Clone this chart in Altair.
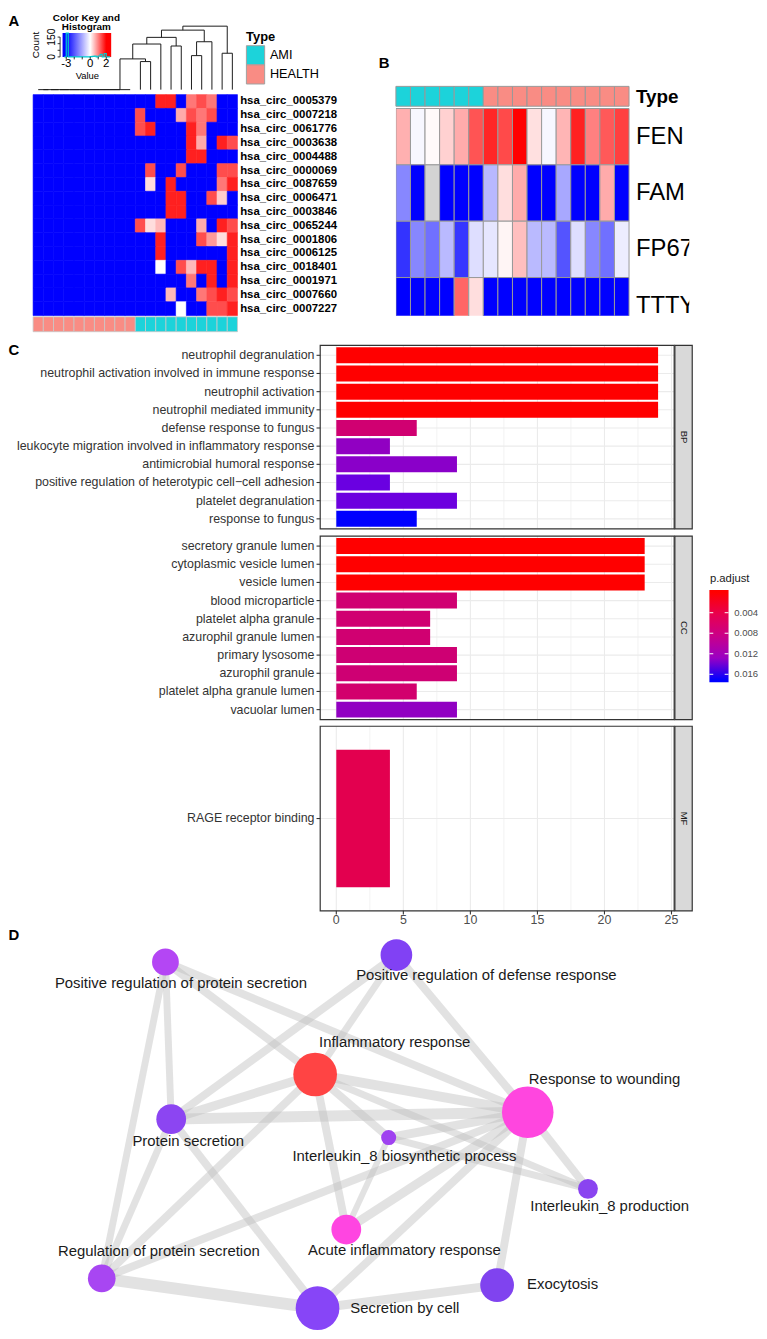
import altair as alt
import numpy as np
import pandas as pd

FONT = "Liberation Sans"
CYAN = "#1CD3DA"
PINK = "#F98C84"
BLUE, WHITE, RED = "#0000FF", "#FFFFFF", "#FF0000"

# ======================= Panel A data =======================
A_genes = ["hsa_circ_0005379", "hsa_circ_0007218", "hsa_circ_0061776", "hsa_circ_0003638",
           "hsa_circ_0004488", "hsa_circ_0000069", "hsa_circ_0087659", "hsa_circ_0006471",
           "hsa_circ_0003846", "hsa_circ_0065244", "hsa_circ_0001806", "hsa_circ_0006125",
           "hsa_circ_0018401", "hsa_circ_0001971", "hsa_circ_0007660", "hsa_circ_0007227"]
A_types = ["HEALTH", "HEALTH", "HEALTH", "HEALTH", "HEALTH", "HEALTH", "HEALTH", "HEALTH", "HEALTH", "HEALTH",
           "AMI", "AMI", "AMI", "AMI", "AMI", "AMI", "AMI", "AMI", "AMI", "AMI"]
BL, R2, R1, S1, P1, L1, W0 = -3.0, 1.75, 1.4, 1.07, 0.67, 0.27, 0.0
A_values = [
    [BL, BL, BL, BL, BL, BL, BL, BL, BL, BL, BL, BL, R2, R2, BL, S1, R1, S1, BL, BL],
    [BL, BL, BL, BL, BL, BL, BL, BL, BL, BL, R1, BL, BL, BL, P1, R1, S1, R1, BL, BL],
    [BL, BL, BL, BL, BL, BL, BL, BL, BL, BL, R1, R2, BL, BL, BL, R2, S1, BL, BL, BL],
    [BL, BL, BL, BL, BL, BL, BL, BL, BL, BL, BL, BL, BL, BL, BL, R2, P1, BL, R2, R1],
    [BL, BL, BL, BL, BL, BL, BL, BL, BL, BL, BL, BL, BL, BL, BL, R2, R2, BL, BL, BL],
    [BL, BL, BL, BL, BL, BL, BL, BL, BL, BL, BL, R1, BL, BL, R1, BL, BL, BL, R1, R1],
    [BL, BL, BL, BL, BL, BL, BL, BL, BL, BL, BL, L1, BL, R2, BL, BL, BL, BL, S1, R2],
    [BL, BL, BL, BL, BL, BL, BL, BL, BL, BL, BL, BL, BL, R2, R2, BL, BL, R1, 0.4, BL],
    [BL, BL, BL, BL, BL, BL, BL, BL, BL, BL, BL, BL, BL, R2, R2, BL, BL, BL, BL, BL],
    [BL, BL, BL, BL, BL, BL, BL, BL, BL, BL, R1, L1, 0.55, BL, BL, BL, 0.65, BL, R2, R1],
    [BL, BL, BL, BL, BL, BL, BL, BL, BL, BL, BL, BL, R2, BL, BL, BL, R1, 0.8, L1, R2],
    [BL, BL, BL, BL, BL, BL, BL, BL, BL, BL, BL, BL, R2, BL, BL, BL, BL, BL, BL, R2],
    [BL, BL, BL, BL, BL, BL, BL, BL, BL, BL, BL, BL, W0, BL, R1, 0.55, R2, R2, BL, R2],
    [BL, BL, BL, BL, BL, BL, BL, BL, BL, BL, BL, BL, BL, BL, BL, S1, BL, R2, BL, R2],
    [BL, BL, BL, BL, BL, BL, BL, BL, BL, BL, BL, BL, BL, 0.55, BL, BL, S1, R1, R2, R1],
    [BL, BL, BL, BL, BL, BL, BL, BL, BL, BL, BL, BL, BL, BL, W0, BL, BL, R1, R1, R2],
]
# column dendrogram (scipy-like linkage: child a, child b, merge height)
A_merges = [(0, 1, 0), (20, 2, 0), (21, 3, 0), (22, 4, 0), (23, 5, 0), (24, 6, 0), (25, 7, 0),
            (26, 8, 0), (27, 9, 0), (10, 11, 28.3), (28, 29, 31.0), (30, 12, 46.0), (13, 14, 44.0),
            (31, 32, 52.7), (15, 16, 34.3), (34, 17, 48.3), (33, 35, 60.0), (18, 19, 36.7), (36, 37, 64.0)]
A_key_ticks = [-3, -2, -1, 0, 1, 2]
A_key_labels = ["-3", "0", "2"]
A_key_label_vals = [-3, 0, 2]
A_count_ticks = [0, 50, 100, 150]
A_count_label_vals = [0, 150]
A_count_labels = ["0", "150"]
A_legend_types = ["AMI", "HEALTH"]

# ======================= Panel B data =======================
B_genes = ["FEN", "FAM", "FP67", "TTTY"]
B_types = ["AMI", "AMI", "AMI", "AMI", "AMI", "AMI", "HEALTH", "HEALTH", "HEALTH", "HEALTH",
           "HEALTH", "HEALTH", "HEALTH", "HEALTH", "HEALTH", "HEALTH"]
B_values = [
    [0.31, -0.03, 0.02, 0.18, 0.33, 0.67, 0.85, 0.71, 1.0, 0.12, -0.03, 0.29, 0.87, 0.5, 0.65, 0.75],
    [-0.47, -1.0, None, -1.0, -1.0, -1.0, -0.28, 0.13, 0.33, -1.0, -1.0, -0.34, -1.0, -1.0, 0.33, -1.0],
    [-0.8, -0.47, -0.56, -0.27, -0.79, -0.13, -0.1, 0.04, 0.25, -0.27, -0.27, -0.67, -0.13, -0.47, -0.56, -0.07],
    [-1.0, -1.0, -1.0, -1.0, 0.6, 0.13, -1.0, -1.0, -1.0, -1.0, -1.0, -1.0, -1.0, -1.0, -1.0, -1.0],
]

# ======================= Panel C data =======================
BP_terms = ["neutrophil degranulation", "neutrophil activation involved in immune response",
            "neutrophil activation", "neutrophil mediated immunity", "defense response to fungus",
            "leukocyte migration involved in inflammatory response", "antimicrobial humoral response",
            "positive regulation of heterotypic cell\u2212cell adhesion", "platelet degranulation",
            "response to fungus"]
BP_count = [24, 24, 24, 24, 6, 4, 9, 4, 9, 6]
BP_padj = [0.00001, 0.00001, 0.00001, 0.00001, 0.0068, 0.0128, 0.0133, 0.0150, 0.0149, 0.0171]
CC_terms = ["secretory granule lumen", "cytoplasmic vesicle lumen", "vesicle lumen", "blood microparticle",
            "platelet alpha granule", "azurophil granule lumen", "primary lysosome", "azurophil granule",
            "platelet alpha granule lumen", "vacuolar lumen"]
CC_count = [23, 23, 23, 9, 7, 7, 9, 9, 6, 9]
CC_padj = [0.00002, 0.00002, 0.00002, 0.0068, 0.0068, 0.0068, 0.0070, 0.0070, 0.0065, 0.0128]
MF_terms = ["RAGE receptor binding"]
MF_count = [4]
MF_padj = [0.0043]
C_major = [0, 5, 10, 15, 20, 25]
C_minor = [2.5, 7.5, 12.5, 17.5, 22.5]
C_major_labels = ["0", "5", "10", "15", "20", "25"]
C_legend_ticks = [0.004, 0.008, 0.012, 0.016]
C_legend_labels = ["0.004", "0.008", "0.012", "0.016"]

# ======================= Panel D data =======================
D_terms = ["Positive regulation of protein secretion", "Positive regulation of defense response",
           "Inflammatory response", "Response to wounding", "Protein secretion",
           "Interleukin_8 biosynthetic process", "Interleukin_8 production", "Acute inflammatory response",
           "Regulation of protein secretion", "Secretion by cell", "Exocytosis"]
D_x = [158.7, 391.5, 309.6, 523.9, 164.5, 383.7, 584.6, 341.0, 94.5, 312.0, 493.0]
D_y = [34.3, 27.3, 147.7, 185.7, 192.7, 211.3, 263.0, 304.0, 353.3, 383.3, 360.0]
D_genes = [7.3, 10.2, 19.4, 27.0, 9.0, 2.3, 4.0, 9.0, 7.8, 19.4, 11.6]
D_label_x = [174.4, 482.2, 389.8, 601.3, 181.7, 399.6, 606.5, 399.6, 152.0, 400.0, 559.0]
D_label_y = [56.0, 47.7, 115.3, 152.0, 214.3, 229.7, 280.3, 325.0, 326.0, 382.7, 359.3]
D_colors = ["#B446F4", "#8141F4", "#FF4444", "#FF46DF", "#8C45F2", "#9F42F0",
            "#8A44F0", "#FF45E1", "#A846F2", "#8745F7", "#8043EF"]
D_edge_from = [0, 0, 0, 0, 1, 1, 1, 2, 2, 2, 2, 2, 2, 4, 4, 4, 3, 3, 3, 3, 3, 3, 5, 5, 8, 9]
D_edge_to = [4, 8, 2, 3, 4, 2, 3, 4, 3, 5, 7, 8, 6, 3, 9, 8, 5, 6, 7, 8, 9, 10, 6, 7, 9, 10]
D_edge_w = [7, 7, 8, 8, 8, 7, 8, 9, 10, 8, 8, 8, 7, 11, 8, 7, 9, 8, 9, 8, 8, 8, 7, 6, 12, 9]

ONE = pd.DataFrame({"k": [0]})


def txt(t, x, y, size, weight="normal", align="left", angle=0, color="#000000"):
    kw = dict(font=FONT, fontSize=size, fontWeight=weight, align=align, baseline="middle", color=color)
    if angle:
        kw["angle"] = angle
    return alt.Chart(pd.DataFrame({"t": [t]})).mark_text(**kw).encode(
        text="t:N", x=alt.value(x), y=alt.value(y))


# ======================= Row 1 : panel A =======================
xA = alt.Scale(domain=[0, 20], range=[25.3, 231.3], nice=False, zero=False)
yAh = alt.Scale(domain=[0, 16], range=[82, 304.7], nice=False, zero=False)
yAd = alt.Scale(domain=[0, 64], range=[77, 13], nice=False, zero=False)
yAa = alt.Scale(domain=[0, 1], range=[306, 321], nice=False, zero=False)
colA = alt.Scale(domain=[-3, 0, 2], range=[BLUE, WHITE, RED], interpolate="rgb")
typeScale = alt.Scale(domain=["AMI", "HEALTH"], range=[CYAN, PINK])

recs = []
for i in range(len(A_genes)):
    for j, v in enumerate(A_values[i]):
        recs.append({"c": j, "c1": j + 1, "r": i, "r1": i + 1, "v": v})
dfA = pd.DataFrame(recs)
heatA = alt.Chart(dfA).mark_rect(strokeWidth=0.6).encode(
    x=alt.X("c:Q", scale=xA, axis=None), x2="c1",
    y=alt.Y("r:Q", scale=yAh, axis=None), y2="r1",
    color=alt.Color("v:Q", scale=colA, legend=None),
    stroke=alt.Stroke("v:Q", scale=colA, legend=None))
labA = alt.Chart(pd.DataFrame({"g": A_genes, "rm": [i + 0.5 for i in range(len(A_genes))]})).mark_text(
    align="left", baseline="middle", font=FONT, fontSize=11.5, fontWeight="bold", color="#000000").encode(
    x=alt.value(234), y=alt.Y("rm:Q", scale=yAh, axis=None), text="g:N")
heatLayerA = alt.layer(heatA, labA)

# dendrogram segments derived from the linkage
pos = {i: i + 0.5 for i in range(20)}
hgt = {i: 0.0 for i in range(20)}
segs = []
for k, (a, b, h) in enumerate(A_merges):
    xa, xb = pos[a], pos[b]
    segs.append({"x": xa, "x2": xa, "y": hgt[a], "y2": h})
    segs.append({"x": xb, "x2": xb, "y": hgt[b], "y2": h})
    segs.append({"x": xa, "x2": xb, "y": h, "y2": h})
    pos[20 + k] = (xa + xb) / 2
    hgt[20 + k] = h
dend = alt.Chart(pd.DataFrame(segs)).mark_rule(color="#1A1A1A", strokeWidth=1).encode(
    x=alt.X("x:Q", scale=xA, axis=None), x2="x2",
    y=alt.Y("y:Q", scale=yAd, axis=None), y2="y2")

dfAa = pd.DataFrame({"c": list(range(20)), "c1": [j + 1 for j in range(20)], "type": A_types,
                     "a0": [0] * 20, "a1": [1] * 20})
annA = alt.Chart(dfAa).mark_rect(stroke="#C8C8C8", strokeWidth=0.8).encode(
    x=alt.X("c:Q", scale=xA, axis=None), x2="c1",
    y=alt.Y("a0:Q", scale=yAa, axis=None), y2="a1",
    color=alt.Color("type:N", scale=typeScale, legend=None))

# color key with histogram
xK = alt.Scale(domain=[-3.46, 2.62], range=[55, 104], nice=False, zero=False, clamp=True)
yK = alt.Scale(domain=[0, 180], range=[44, 20], nice=False, zero=False, clamp=True)
keyGrad = alt.LinearGradient(gradient="linear", x1=0, x2=1, y1=0, y2=0, stops=[
    alt.GradientStop(color=BLUE, offset=0), alt.GradientStop(color=BLUE, offset=0.076),
    alt.GradientStop(color=WHITE, offset=0.569), alt.GradientStop(color=RED, offset=0.898),
    alt.GradientStop(color=RED, offset=1)])
keyRect = alt.Chart(pd.DataFrame({"x0": [-3.46], "x1": [2.62], "y0": [0], "y1": [180]})).mark_rect(
    color=keyGrad).encode(x=alt.X("x0:Q", scale=xK, axis=None), x2="x1",
                          y=alt.Y("y0:Q", scale=yK, axis=None), y2="y1")
vals = np.array(A_values, dtype=float).ravel()
edges = np.arange(-3.25, 2.51, 0.25)
counts, _ = np.histogram(vals, bins=edges)
dfH = pd.DataFrame({"x": edges, "n": list(counts) + [counts[-1]]})
hist = alt.Chart(dfH).mark_line(interpolate="step-after", color="#00CED1", strokeWidth=1.2).encode(
    x=alt.X("x:Q", scale=xK, axis=None), y=alt.Y("n:Q", scale=yK, axis=None))
keyTicks = alt.Chart(pd.DataFrame({"x": A_key_ticks})).mark_rule(color="#000000", strokeWidth=0.8).encode(
    x=alt.X("x:Q", scale=xK, axis=None), y=alt.value(44), y2=alt.value(46.5))
keyLabels = alt.Chart(pd.DataFrame({"x": A_key_label_vals, "t": A_key_labels})).mark_text(
    font=FONT, fontSize=11.5, baseline="middle", color="#000000").encode(
    x=alt.X("x:Q", scale=xK, axis=None), y=alt.value(51.5), text="t:N")
cntLine = alt.Chart(pd.DataFrame({"a": [0], "b": [150]})).mark_rule(color="#000000", strokeWidth=0.8).encode(
    x=alt.value(52.5), y=alt.Y("a:Q", scale=yK, axis=None), y2="b")
cntTicks = alt.Chart(pd.DataFrame({"n": A_count_ticks})).mark_rule(color="#000000", strokeWidth=0.8).encode(
    x=alt.value(50), x2=alt.value(52.5), y=alt.Y("n:Q", scale=yK, axis=None))
cntLabels = alt.Chart(pd.DataFrame({"n": A_count_label_vals, "t": A_count_labels})).mark_text(
    font=FONT, fontSize=10.5, angle=270, baseline="middle", color="#000000").encode(
    x=alt.value(44), y=alt.Y("n:Q", scale=yK, axis=None), text="t:N")
keyLayer = alt.layer(keyRect, hist, keyTicks, keyLabels, cntLine, cntTicks, cntLabels,
                     txt("Color Key and", 79, 5, 10, "bold", "center"),
                     txt("Histogram", 79, 14, 10, "bold", "center"),
                     txt("Value", 80, 63, 9.5, "normal", "center"),
                     txt("Count", 28, 32, 10, "normal", "center", 270))

# Type legend of panel A
yL = alt.Scale(domain=[0, 2], range=[32.7, 71.3], nice=False, zero=False)
dfL = pd.DataFrame({"t": A_legend_types, "i": [0, 1], "i1": [1, 2], "im": [0.5, 1.5]})
legSw = alt.Chart(dfL).mark_rect(stroke="#A0A0A0", strokeWidth=1).encode(
    x=alt.value(240.3), x2=alt.value(258.7), y=alt.Y("i:Q", scale=yL, axis=None), y2="i1",
    color=alt.Color("t:N", scale=typeScale, legend=None))
legTx = alt.Chart(dfL).mark_text(font=FONT, fontSize=12.8, align="left", baseline="middle",
                                 color="#000000").encode(
    x=alt.value(264), y=alt.Y("im:Q", scale=yL, axis=None), text="t:N")
legLayerA = alt.layer(legSw, legTx, txt("Type", 240, 23.7, 13, "bold"))

A_chart = alt.layer(
    keyLayer, dend, heatLayerA, annA, legLayerA,
    txt("A", 0.5, 8, 15, "bold"), txt("B", 373.7, 50.3, 15, "bold"),
).resolve_scale(x="independent", y="independent", color="independent", stroke="independent").properties(
    width=389.3, height=327)

# ======================= Row 1 : panel B =======================
xB = alt.Scale(domain=[0, 16], range=[0, 235], nice=False, zero=False)
yBh = alt.Scale(domain=[0, 4], range=[96, 323.2], nice=False, zero=False)
yBa = alt.Scale(domain=[0, 1], range=[73.7, 93.7], nice=False, zero=False)
colB = alt.Scale(domain=[-1, 0, 1], range=[BLUE, WHITE, RED], interpolate="rgb")
recB = []
for i in range(len(B_genes)):
    for j, v in enumerate(B_values[i]):
        recB.append({"c": j, "c1": j + 1, "r": i, "r1": i + 1,
                     "v": 0.0 if v is None else v, "na": 1 if v is None else 0})
dfB = pd.DataFrame(recB)
heatB = alt.Chart(dfB).mark_rect(clip=True, stroke="#999999", strokeWidth=1).encode(
    x=alt.X("c:Q", scale=xB, axis=None), x2="c1",
    y=alt.Y("r:Q", scale=yBh, axis=None), y2="r1",
    color=alt.condition("datum.na == 1", alt.value("#D3D3D3"),
                        alt.Color("v:Q", scale=colB, legend=None)))
labB = alt.Chart(pd.DataFrame({"g": B_genes, "rm": [i + 0.5 for i in range(len(B_genes))]})).mark_text(
    clip=True, align="left", baseline="middle", font=FONT, fontSize=24, color="#000000").encode(
    x=alt.value(242), y=alt.Y("rm:Q", scale=yBh, axis=None), text="g:N")
dfBa = pd.DataFrame({"c": list(range(16)), "c1": [j + 1 for j in range(16)], "type": B_types,
                     "a0": [0] * 16, "a1": [1] * 16})
annB = alt.Chart(dfBa).mark_rect(stroke="#999999", strokeWidth=1).encode(
    x=alt.X("c:Q", scale=xB, axis=None), x2="c1",
    y=alt.Y("a0:Q", scale=yBa, axis=None), y2="a1",
    color=alt.Color("type:N", scale=typeScale, legend=None))
B_chart = alt.layer(
    annB, alt.layer(heatB, labB), txt("Type", 242, 84.3, 19, "bold"),
).resolve_scale(y="independent", color="independent").properties(width=295.7, height=305)

row1 = alt.hconcat(A_chart, B_chart, spacing=0)

# ======================= Row 2 : panel C =======================
XC0, XC1 = 314.7, 671.5
xC = alt.Scale(domain=[-1.2, 25.2], range=[XC0, XC1], nice=False, zero=False)
colC = alt.Scale(domain=[0.00001, 0.0171], range=[RED, BLUE], interpolate="lab")


def facet(terms, counts, padj, top, bottom, strip, po):
    df = pd.DataFrame({"term": terms, "count": counts, "padj": padj, "base": [0] * len(terms)})
    ys = alt.Scale(domain=terms, range=[top, bottom], paddingInner=0.12, paddingOuter=po)
    yenc = alt.Y("term:N", scale=ys, axis=None, sort=None)
    base = alt.Chart(df)
    minor = alt.Chart(pd.DataFrame({"g": C_minor})).mark_rule(color="#EBEBEB", strokeWidth=0.6).encode(
        x=alt.X("g:Q", scale=xC, axis=None), y=alt.value(top), y2=alt.value(bottom))
    major = alt.Chart(pd.DataFrame({"g": C_major})).mark_rule(color="#EBEBEB", strokeWidth=1.1).encode(
        x=alt.X("g:Q", scale=xC, axis=None), y=alt.value(top), y2=alt.value(bottom))
    hgrid = base.mark_rule(color="#EBEBEB", strokeWidth=1.1).encode(
        y=yenc, x=alt.value(XC0), x2=alt.value(XC1))
    bars = base.mark_bar().encode(
        x=alt.X("base:Q", scale=xC, axis=None), x2="count", y=yenc,
        color=alt.Color("padj:Q", scale=colC, legend=None))
    ticks = base.mark_rule(color="#333333", strokeWidth=1.1).encode(
        y=yenc, x=alt.value(XC0 - 3.7), x2=alt.value(XC0))
    labels = base.mark_text(align="right", baseline="middle", font=FONT, fontSize=12.5,
                            color="#333333").encode(y=yenc, x=alt.value(XC0 - 5.8), text="term:N")
    one = alt.Chart(pd.DataFrame({"s": [strip]}))
    border = one.mark_rect(fillOpacity=0, stroke="#333333", strokeWidth=1.2).encode(
        x=alt.value(XC0), x2=alt.value(XC1), y=alt.value(top), y2=alt.value(bottom))
    sbox = one.mark_rect(fill="#D9D9D9", stroke="#333333", strokeWidth=1.2).encode(
        x=alt.value(XC1 + 0.7), x2=alt.value(XC1 + 18.2), y=alt.value(top), y2=alt.value(bottom))
    stext = one.mark_text(angle=90, font=FONT, fontSize=9.6, color="#1A1A1A", baseline="middle",
                          align="center").encode(
        x=alt.value(XC1 + 9.45), y=alt.value((top + bottom) / 2), text="s:N")
    return alt.layer(minor, major, hgrid, bars, ticks, labels, border, sbox, stext)


dfXT = pd.DataFrame({"g": C_major, "t": C_major_labels})
xTicks = alt.Chart(dfXT).mark_rule(color="#333333", strokeWidth=1.1).encode(
    x=alt.X("g:Q", scale=xC, axis=None), y=alt.value(577.7), y2=alt.value(581.4))
xLabels = alt.Chart(dfXT).mark_text(font=FONT, fontSize=12.5, color="#4D4D4D", baseline="middle").encode(
    x=alt.X("g:Q", scale=xC, axis=None), y=alt.value(587.5), text="t:N")

legY = alt.Scale(domain=[0.00001, 0.0171], range=[256.6, 345], nice=False, zero=False)
legGrad = alt.LinearGradient(gradient="linear", x1=0, x2=0, y1=0, y2=1, stops=[
    alt.GradientStop(color=RED, offset=0), alt.GradientStop(color=RED, offset=0.025),
    alt.GradientStop(color="#E8004F", offset=0.2625), alt.GradientStop(color="#C90089", offset=0.5),
    alt.GradientStop(color="#9A00C3", offset=0.7375), alt.GradientStop(color=BLUE, offset=0.975),
    alt.GradientStop(color=BLUE, offset=1)])
dfLT = pd.DataFrame({"v": C_legend_ticks, "t": C_legend_labels})
legRect = alt.Chart(ONE).mark_rect(color=legGrad).encode(
    x=alt.value(707), x2=alt.value(726.3), y=alt.value(254.3), y2=alt.value(347.3))
legTL = alt.Chart(dfLT).mark_rule(color="#FFFFFF", strokeWidth=1).encode(
    y=alt.Y("v:Q", scale=legY, axis=None), x=alt.value(707), x2=alt.value(710.9))
legTR = alt.Chart(dfLT).mark_rule(color="#FFFFFF", strokeWidth=1).encode(
    y=alt.Y("v:Q", scale=legY, axis=None), x=alt.value(722.4), x2=alt.value(726.3))
legLab = alt.Chart(dfLT).mark_text(font=FONT, fontSize=9.6, align="left", baseline="middle",
                                   color="#4D4D4D").encode(
    y=alt.Y("v:Q", scale=legY, axis=None), x=alt.value(732), text="t:N")
legLayerC = alt.layer(legRect, legTL, legTR, legLab, txt("p.adjust", 707.5, 243, 11.4, color="#1A1A1A"))

row2 = alt.layer(
    facet(BP_terms, BP_count, BP_padj, 7.7, 192.7, "BP", 0.11),
    facet(CC_terms, CC_count, CC_padj, 200, 385, "CC", 0.11),
    facet(MF_terms, MF_count, MF_padj, 391.7, 577.7, "MF", 0.15),
    alt.layer(xTicks, xLabels),
    legLayerC,
    txt("C", 0.5, 12.5, 15, "bold"),
).resolve_scale(y="independent").properties(width=751, height=595)

# ======================= Row 3 : panel D =======================
xD = alt.Scale(domain=[0, 751], range=[0, 751], nice=False, zero=False)
yD = alt.Scale(domain=[0, 401], range=[0, 401], nice=False, zero=False)
dfN = pd.DataFrame({"term": D_terms, "x": D_x, "y": D_y, "genes": D_genes,
                    "lx": D_label_x, "ly": D_label_y})
dfE = pd.DataFrame({
    "x": [D_x[a] for a in D_edge_from], "y": [D_y[a] for a in D_edge_from],
    "x2": [D_x[b] for b in D_edge_to], "y2": [D_y[b] for b in D_edge_to], "w": D_edge_w})
edgesD = alt.Chart(dfE).mark_rule(color="#BEBEBE", opacity=0.45).encode(
    x=alt.X("x:Q", scale=xD, axis=None), y=alt.Y("y:Q", scale=yD, axis=None), x2="x2", y2="y2",
    strokeWidth=alt.StrokeWidth("w:Q", scale=alt.Scale(domain=[0, 12], range=[0, 12]), legend=None))
nodesD = alt.Chart(dfN).mark_circle(opacity=1).encode(
    x=alt.X("x:Q", scale=xD, axis=None), y=alt.Y("y:Q", scale=yD, axis=None),
    size=alt.Size("genes:Q", scale=alt.Scale(domain=[0, 27], range=[0, 2700]), legend=None),
    color=alt.Color("term:N", scale=alt.Scale(domain=D_terms, range=D_colors), legend=None))
labelsD = alt.Chart(dfN).mark_text(font=FONT, fontSize=15, color="#1A1A1A", baseline="middle").encode(
    x=alt.X("lx:Q", scale=xD, axis=None), y=alt.Y("ly:Q", scale=yD, axis=None), text="term:N")
row3 = alt.layer(edgesD, nodesD, labelsD, txt("D", 0.5, 7.5, 15, "bold")).properties(width=751, height=401)

chart = alt.vconcat(row1, row2, row3, spacing=0).properties(
    padding=0, background="white"
).configure(font=FONT, view=alt.ViewConfig(stroke=None))

chart.save("out.html", embed_options={"renderer": "svg", "actions": False})
